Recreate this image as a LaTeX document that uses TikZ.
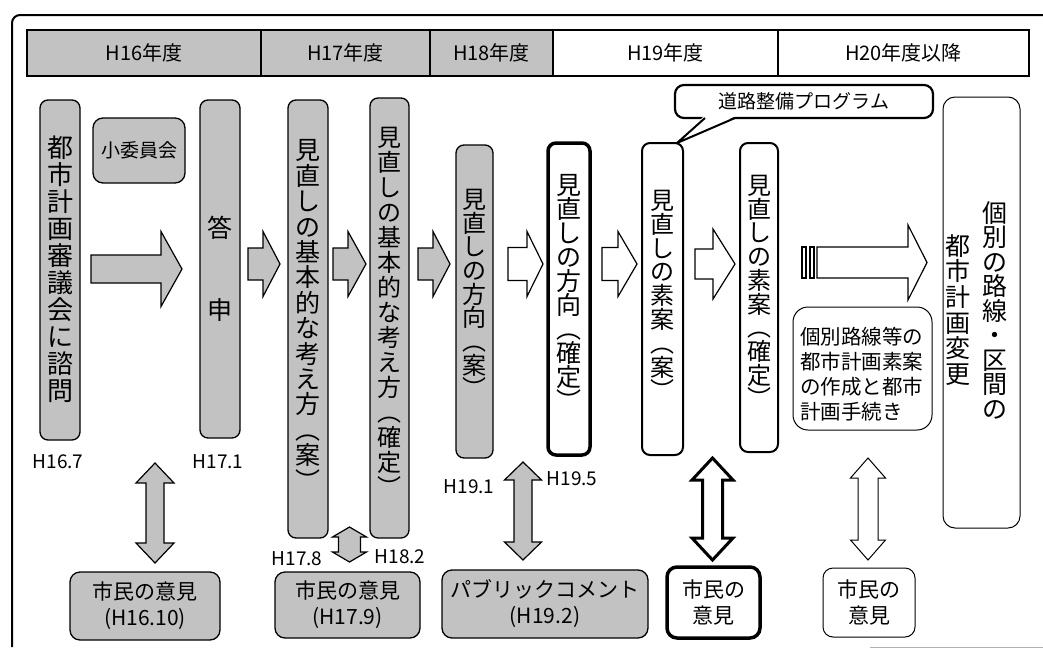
\documentclass[tikz,border=0pt]{standalone}
\usepackage{fontspec}
\newfontfamily\jp{Noto Sans CJK JP}
\newcommand\vf[2]{\jp\fontsize{#1}{#2}\selectfont}
\definecolor{shade}{gray}{0.76}
% right block arrow: style, x tail, x head start, x tip, y centre, shaft half, head half
\newcommand\blkR[7]{\draw[#1] (#2,#5-#6) -- (#3,#5-#6) -- (#3,#5-#7) -- (#4,#5) -- (#3,#5+#7) -- (#3,#5+#6) -- (#2,#5+#6) -- cycle;}
% vertical double block arrow: style, x centre, y top, y bottom, head length, shaft half, head half
\newcommand\blkV[7]{\draw[#1] (#2,#3) -- (#2+#7,#3+#5) -- (#2+#6,#3+#5) -- (#2+#6,#4-#5) -- (#2+#7,#4-#5) -- (#2,#4) -- (#2-#7,#4-#5) -- (#2-#6,#4-#5) -- (#2-#6,#3+#5) -- (#2-#7,#3+#5) -- cycle;}
\begin{document}
\begin{tikzpicture}[x=1pt,y=-1pt,
  hcell/.style={draw, line width=1.2pt, minimum height=46pt, inner sep=0pt, font=\vf{20}{24}},
  gbox/.style={draw, fill=shade, line width=1.3pt, rounded corners=8pt, inner sep=0pt},
  wbox/.style={draw, fill=white, line width=1.3pt, rounded corners=8pt, inner sep=0pt},
  vtext/.style={align=center, inner sep=0pt},
  lbl/.style={inner sep=0pt, font=\vf{19}{22}},
  btxt/.style={align=center, inner sep=0pt, font=\vf{21}{26}},
  garrow/.style={draw, fill=shade, line width=1.2pt},
  warrow/.style={draw, fill=white, line width=1.2pt}]
\useasboundingbox (0,0) rectangle (1043,648);
\fill[white] (0,0) rectangle (1043,648);
% outer frame
\draw[line width=2pt, rounded corners=8pt] (12,647) -- (12,15) -- (1050,15);
\draw[gray!60, line width=1pt] (870,647) -- (1043,647);
% header
\node[hcell, fill=shade, minimum width=234pt] (h16) at (144,53) {H16年度};
\node[hcell, fill=shade, minimum width=169pt] (h17) at (345.5,53) {H17年度};
\node[hcell, fill=shade, minimum width=123pt] (h18) at (491.5,53) {H18年度};
\node[hcell, fill=white, minimum width=225pt] (h19) at (665.5,53) {H19年度};
\node[hcell, fill=white, minimum width=251pt] (h20) at (903.5,53) {H20年度以降};
% vertical boxes
\node[gbox, minimum width=40pt, minimum height=340pt] (b1) at (60,270) {};
\node[vtext, font=\vf{26}{27}] (t1) at (60,269) {都\\市\\計\\画\\審\\議\\会\\に\\諮\\問};
\node[gbox, rounded corners=10pt, minimum width=92pt, minimum height=65pt, font=\vf{19}{22}] (sub) at (139,150.5) {小委員会};
\node[gbox, minimum width=40pt, minimum height=338pt] (b3) at (220,269) {};
\node[vtext, font=\vf{25}{25}] (t3) at (220,269) {答\\[57pt]申};
\node[gbox, minimum width=40pt, minimum height=438pt] (b4) at (308,319) {};
\node[vtext, font=\vf{25}{25.4}] (t4) at (308,315) {見\\直\\し\\の\\基\\本\\的\\な\\考\\え\\方\\︵\\案\\︶};
\node[gbox, minimum width=39pt, minimum height=440pt] (b5) at (389.5,318) {};
\node[vtext, font=\vf{24}{25}] (t5) at (389.5,312) {見\\直\\し\\の\\基\\本\\的\\な\\考\\え\\方\\︵\\確\\定\\︶};
\node[gbox, minimum width=37pt, minimum height=313pt] (b6) at (474.5,301.5) {};
\node[vtext, font=\vf{24}{23.7}] (t6) at (474.5,293.5) {見\\直\\し\\の\\方\\向\\︵\\案\\︶};
\node[wbox, line width=3.5pt, minimum width=42pt, minimum height=312pt] (b7) at (569,299) {};
\node[vtext, font=\vf{25}{24}] (t7) at (569,292) {見\\直\\し\\の\\方\\向\\︵\\確\\定\\︶};
\node[wbox, line width=2pt, minimum width=41pt, minimum height=312pt] (b8) at (662.5,299) {};
\node[vtext, font=\vf{24}{23.8}] (t8) at (662.5,295) {見\\直\\し\\の\\素\\案\\︵\\案\\︶};
\node[wbox, line width=2pt, minimum width=38pt, minimum height=309pt] (b9) at (759,297.5) {};
\node[vtext, font=\vf{24}{23.7}] (t9) at (759,291.5) {見\\直\\し\\の\\素\\案\\︵\\確\\定\\︶};
\node[wbox, line width=1pt, rounded corners=12pt, minimum width=77pt, minimum height=431pt] (b11) at (981.5,312.5) {};
\node[vtext, font=\vf{25}{24.5}] (t11a) at (995,310) {個\\別\\の\\路\\線\\・\\区\\間\\の};
\node[vtext, font=\vf{25}{25.7}] (t11b) at (958,310) {都\\市\\計\\画\\変\\更};
\node[wbox, line width=1pt, rounded corners=15pt, minimum width=139pt, minimum height=123pt] (b12) at (862.5,368.5) {};
\node[align=left, inner sep=0pt, font=\vf{20.5}{25}] (t12) at (861.5,374.5) {個別路線等の\\都市計画素案\\の作成と都市\\計画手続き};
% speech bubble
\node[draw, fill=white, line width=2.2pt, rounded corners=9pt, minimum width=258pt, minimum height=33pt, inner sep=0pt, font=\vf{19}{22}] (prog) at (804,101.5) {道路整備プログラム};
\fill[white] (704,116) -- (736,116) -- (677,143) -- cycle;
\draw[line width=2pt, line join=round] (705,118) -- (677,143) -- (735,118);
% horizontal block arrows
\blkR{garrow}{91}{161}{182}{269}{14}{37.5}
\blkR{garrow}{248}{263}{280}{264}{16}{32.5}
\blkR{garrow}{333}{348}{366}{264}{16}{32.5}
\blkR{garrow}{418}{433}{450}{264}{16}{32.5}
\blkR{warrow}{508}{527}{543}{264}{16.5}{32.5}
\blkR{warrow}{602}{618}{637}{264}{16.5}{32.5}
\blkR{warrow}{695}{713}{735}{264}{15}{35}
\draw[line width=1.2pt] (802,247) rectangle (806,278);
\draw[line width=1.2pt] (810,247) rectangle (814,278);
\blkR{warrow}{817}{908}{927}{262.5}{15.5}{37.5}
% vertical double arrows
\blkV{garrow}{155}{463}{563}{20}{9}{19}
\blkV{garrow}{349.5}{527}{562}{10}{11}{17}
\blkV{garrow}{523}{462}{560}{18}{9}{18.5}
\blkV{warrow, line width=3pt}{712.5}{458}{560}{22}{10}{20.5}
\blkV{warrow, line width=1pt}{868}{458}{560}{20}{10}{17.5}
% date labels
\node[lbl] (l167) at (58,462) {H16.7};
\node[lbl] (l171) at (218,462) {H17.1};
\node[lbl] (l178) at (297,559) {H17.8};
\node[lbl] (l182) at (400,557) {H18.2};
\node[lbl] (l191) at (469,487) {H19.1};
\node[lbl] (l195) at (572,479) {H19.5};
% bottom boxes
\node[gbox, rounded corners=10pt, minimum width=150pt, minimum height=68pt, btxt] (c1) at (145,606) {市民の意見\\(H16.10)};
\node[gbox, rounded corners=10pt, minimum width=145pt, minimum height=66pt, btxt] (c2) at (347.5,605) {市民の意見\\(H17.9)};
\node[gbox, rounded corners=10pt, minimum width=206pt, minimum height=68pt, btxt] (c3) at (545,604) {パブリックコメント\\(H19.2)};
\node[wbox, line width=3.5pt, rounded corners=10pt, minimum width=93pt, minimum height=71pt, btxt] (c4) at (713.5,602.5) {市民の\\意見};
\node[wbox, line width=1pt, rounded corners=10pt, minimum width=92pt, minimum height=69pt, btxt] (c5) at (869,602.5) {市民の\\意見};
\end{tikzpicture}
\end{document}
